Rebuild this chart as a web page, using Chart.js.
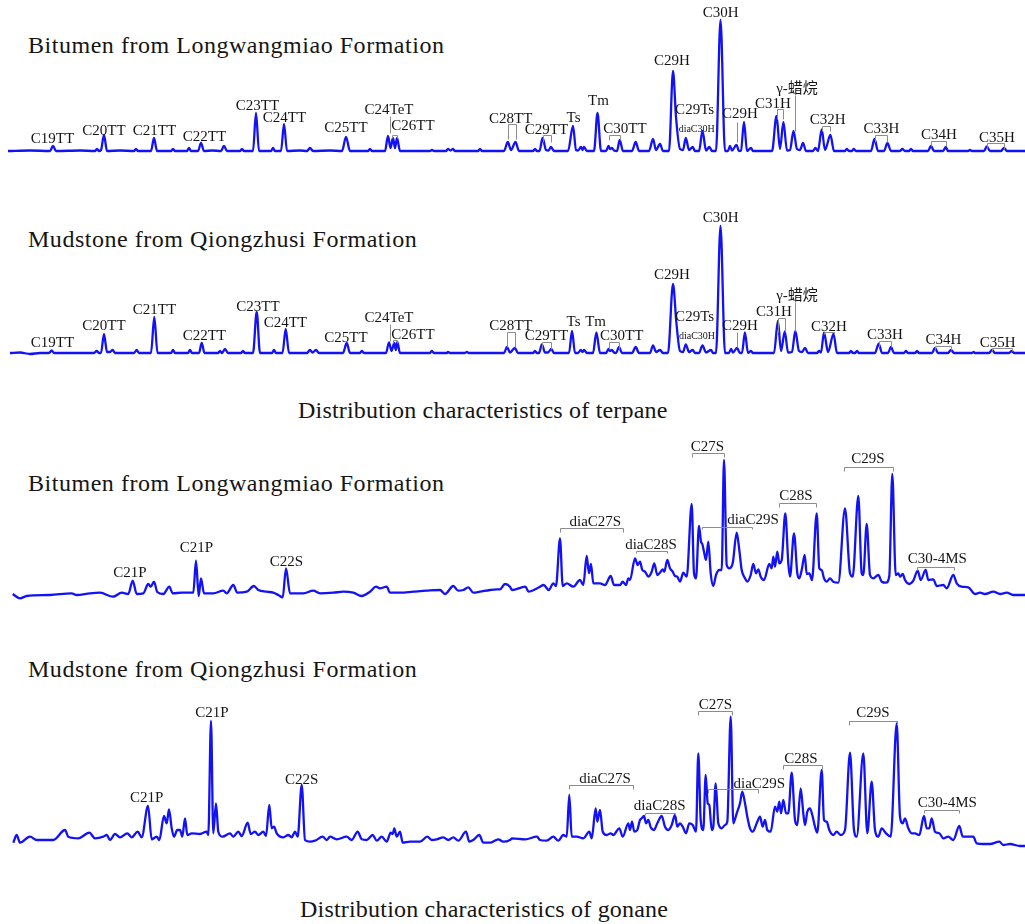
<!DOCTYPE html>
<html>
<head>
<meta charset="utf-8">
<script src="https://cdn.jsdelivr.net/npm/chart.js@4.4.1/dist/chart.umd.min.js"></script>
<style>
body { margin: 0; background: #fff; width: 1025px; height: 924px; position: relative; overflow: hidden;
       font-family: "Liberation Serif", "Times New Roman", serif; color: #151515; }
.title { position: absolute; left: 28px; font-size: 24px; line-height: 24px; letter-spacing: 0.53px; white-space: nowrap; }
.caption { position: absolute; font-size: 24px; line-height: 24px; letter-spacing: 0.2px; white-space: nowrap; }
canvas { position: absolute; left: 0; }
</style>
</head>
<body>

<div class="title" style="top:33px">Bitumen from Longwangmiao Formation</div>
<div class="title" style="top:227px">Mudstone from Qiongzhusi Formation</div>
<div class="caption" style="top:398px; left:298px">Distribution characteristics of terpane</div>
<div class="title" style="top:471px">Bitumen from Longwangmiao Formation</div>
<div class="title" style="top:657px">Mudstone from Qiongzhusi Formation</div>
<div class="caption" style="top:897px; left:300px">Distribution characteristics of gonane</div>

<canvas id="terpane_bitumen" width="1025" height="170" style="top:0px"></canvas>
<canvas id="terpane_mudstone" width="1025" height="170" style="top:200px"></canvas>
<canvas id="sterane_bitumen" width="1025" height="170" style="top:440px"></canvas>
<canvas id="sterane_mudstone" width="1025" height="180" style="top:680px"></canvas>

<script>
// Traces : [temps de rétention (scan), intensité relative]
var terpaneBitumen = [
	[8,0],[30,0.5],[50,0],[53,5],[56,0],[80,0.5],[95,0],[97,2],[99,0],[101,1],[104,16],[107,0],[120,0.5],
	[134,0],[136,2],[138,0],[151,0],[154,13],[157,0],[171,0],[173,2],[175,0],[187,0],[189,3],[191,0],
	[198,0],[201,8],[204,0],[212,0.5],[221,0],[224,5],[227,0],[240,0],[242,2],[244,0],[253,0],[256,38],
	[259,0],[271,0],[273,3],[275,0],[281,0],[284,27],[287,0],[300,0.5],[307,0],[310,3],[313,0],[330,0.5],
	[342,0],[346,14],[350,0],[368,0],[370,2],[372,0],[385,0],[388,15],[390.5,3],[393,13],[395,3],[397,13],
	[400,0],[430,0],[432,1],[434,0],[446,0],[448,2],[450.5,0.5],[453,2],[455,0],[478,0],[480,2],[482,0],
	[504,0],[507.8,9],[511,1],[515.5,9],[519,0],[533,0],[535,2],[537,0],[539.5,0],[542.6,13],[546,1],
	[548.5,0.5],[551,4],[554,0],[568,0],[573,25],[576,1],[578,0.5],[581,4],[582.5,1],[584,4],[587,0],
	[594,0],[597.5,38],[601,0],[606,0],[608.6,5],[610,2],[612,3],[614,0.5],[617,0],[619.7,11],[623,0],
	[632,0],[635.7,9],[639,0],[649,0],[653,12],[656,1],[660,7],[663,0],[669,0],[673,80],[676,34],[680,2],
	[683,1],[685.8,13],[689,1],[692.7,4],[695,0],[699,0],[702.5,20],[706,0.5],[709.4,4],[712,0],[716,0],
	[720.5,131],[725,0],[728,0],[730,5],[732,0.5],[736.5,6],[739,0],[741,0.5],[744,29],[747,0],[751,3],
	[753,0],[772,0],[776.5,35],[780,2],[783.4,29],[787,0.5],[790,1],[793.5,20],[797,2],[800,1],[803,8],
	[806,0],[813,0],[815.4,3],[818,0],[821.7,21.5],[825,1],[830.4,16],[834,0],[845,0],[846.7,2],[849,0],
	[852,0],[853.6,2],[856,0],[871,0],[874.5,12],[878,0],[884,0],[887.4,8],[891,0],[900,0],[902.3,2],
	[905,0],[909,0],[911,2],[913,0],[928,0],[931,5],[934,0],[943,0],[945.8,4],[948,0],[968,0],[970,1],
	[972,0],[984,0],[986.8,4.5],[990,0],[1001,0],[1004,3],[1007,0],[1025,0]
];

var terpaneMudstone = [
	[10,0],[20,0.5],[30,-1],[40,0],[49,0],[51.7,2.5],[54,0],[94,0],[96.7,2],[99,0],[101,0],[104,19],
	[107,1],[110,1],[112.7,3],[115,0],[134,0],[136.7,3],[139,0],[151,0],[154.3,36],[157.5,0],[171,0],
	[173,3],[175,0],[188,0],[190,3],[192,0],[199,0],[201.7,10],[204.5,0],[218,0],[220,2],[222,0],[225,4],
	[228,0],[241,0],[243,2],[245,0],[253,0],[256.7,41],[260,0],[272,0],[274,3],[276,0],[282.5,0],
	[285.7,24],[289,0],[307,0],[310,3],[312.5,0.5],[316,3],[319,0],[343,0],[346.7,10],[350,0],[360,0],
	[361.7,2],[364,0],[386,0],[389,10.7],[391.5,2],[394.3,10],[395.8,3],[397.3,11],[400,0],[430,0],
	[431.7,2],[434,0],[447,0],[448,1],[450,0],[465,0],[466.7,1],[469,0],[504,0],[507,6],[510,0.5],
	[514.8,5],[518,0],[533,0],[535,2],[537,0],[539,0],[541.9,8.7],[545,0.5],[548,0.5],[551.3,4],[554,0],
	[569,0],[572,22],[575,0],[578,0],[580.8,3],[582.5,1],[584,3],[587,0],[593,0],[596.4,20.5],[600,0],
	[606,0],[608.6,4],[610,2],[612,3],[614,0.5],[616,0],[619,6],[622,0],[632,0],[635.7,6],[639,0],[650,0],
	[653,7.6],[656,1],[660,3],[663,0],[668,0],[673,69],[676.4,30],[680,2],[683,1],[685.8,8.7],[689,1],
	[692.7,3],[695,0],[699,0],[702.5,7.6],[706,0.5],[711,3],[713,0],[716,0],[720.5,127],[725,0],[729,0],
	[731,4],[733,0.5],[737,5],[740,0],[742,0],[744.9,20.5],[748,0],[751,2],[753,0],[774,0],[777.9,32],
	[781,2],[784.8,21.5],[788,0.5],[792,1],[795.3,22],[799,2],[802,1],[805,5],[808,0],[817,0],[819,2],
	[821,0.5],[824,20.5],[828,1],[833.5,19],[837,0],[849,0],[851,2],[853,0],[855,0],[857,2],[859,0],
	[875,0],[878.7,9.4],[882,0],[888,0],[891,6],[894,0],[904,0],[905.8,2],[908,0],[915,0],[917,2],[919,0],
	[932,0],[935,5],[938,0],[948,0],[951,3],[954,0],[972,0],[973.6,1],[975,0],[989,0],[992,3],[995,0],
	[1009,0],[1011.8,2],[1014,0],[1025,0]
];

var steraneBitumen = [
	[12.7,2],[20,-2.3],[26.7,0],[50,1],[71.7,2.7],[76.7,1],[90,2.7],[100,3.3],[113,-0.7],[121.7,3.3],
	[128.3,2],[132.7,15.3],[136.7,2],[143.3,2.7],[148.3,12],[150.7,9.3],[154,14.3],[157.3,4],[163.3,2],
	[169.3,9.3],[172.7,2.7],[181.7,3.3],[193.3,3.3],[196,35.3],[198.7,0],[201,17.7],[204,2.7],[213.3,2.7],
	[223.3,5.3],[226.7,2.7],[233.3,11],[237.3,3.3],[246.7,4.3],[254,10],[258.3,6],[266.7,4.3],[273.3,3.3],
	[278.3,1],[282.7,-1.3],[286,27.7],[290,2.7],[303.3,2.7],[313.3,5.3],[320,2.7],[333.3,3.3],[343.3,4.3],
	[353.3,3.3],[361.7,0],[370,4.3],[376,9.3],[380,7.7],[386.7,9.3],[390,3.3],[400,3.3],[413.3,4.3],
	[426.7,5.3],[440,6],[445,2],[453.3,10],[458.3,5.3],[463.3,6],[468.3,8.7],[473.3,3.3],[480,4.3],[490,6],
	[496.7,6.7],[500,6.7],[505,12],[510,9.3],[512,6],[525.3,9.3],[528.7,4.3],[535.3,6.7],[540,9.3],
	[543.7,11],[548.7,6],[553.3,12.7],[556,10],[560,57.7],[562.7,10],[566.7,12.7],[573.3,9.3],[580,16],
	[583.3,11],[586.7,40],[589,22.7],[591,32],[593.3,12.7],[600,12.7],[605,11],[610.7,20],[614,11],[620,11],
	[622.7,14.3],[626,11],[628.3,17.7],[630,16],[635,37.7],[637.7,31],[640,34.3],[642.3,26],[645,24.3],
	[648.3,19.3],[651.7,24.3],[654.3,32.7],[657.3,21],[660.7,24.3],[662.7,26.7],[664.3,24.3],[667.3,36],
	[670,27.7],[672.7,24.3],[675,20],[677.3,19.3],[680,14.3],[683.3,23.3],[686.7,19.3],[691.7,92],
	[694,22.7],[696,17.7],[699,70],[701,54.3],[702.3,52],[704,44.3],[706,36],[708.3,54.3],[710.7,22.7],
	[713.3,10],[716,21],[719.3,26],[721.7,26],[724,136],[726.7,31],[729.3,27.7],[732.7,32.7],[736.7,63.3],
	[739.3,46],[741.7,26],[745,17.7],[747.3,14.3],[750.7,21],[753.3,32],[756,22.7],[758.3,26.7],
	[760.7,19.3],[764,16],[769.3,32],[771.7,27.7],[773.3,39.3],[775,29.3],[777.3,44.3],[779.3,32.7],
	[781.7,36],[785.3,82.7],[788.3,32.7],[790,19.3],[794,62.7],[797.3,22.7],[799.3,17.7],[801.7,26],
	[804.7,41],[806.7,22],[809.3,22.7],[812,16],[816.7,82.7],[819.3,27.7],[821.7,26],[824,17.7],
	[826.7,14.3],[830,17.7],[833.3,14.3],[838.3,13.3],[845,87.7],[850,22.7],[852.7,19.3],[858.3,100],
	[861.7,22.7],[863.3,21],[866.7,72],[870,21],[873.3,17.7],[878.3,21],[881.7,14.3],[886,13.3],[889.3,20],
	[892.3,122],[895.7,21],[898.3,22.7],[900,19.3],[902.7,22],[905,16],[909.3,12],[913.3,15.3],
	[917.7,25.3],[920.7,16],[925.7,26],[928.3,16],[933.3,16.7],[936.7,10],[943.3,11],[946.7,7.7],
	[953.3,21],[956.7,12.7],[961.7,9.3],[968.3,8.7],[975,2],[980,3.3],[985,2],[993.3,4.3],[1000,2],
	[1006.7,3.3],[1013.3,1],[1025,1]
];

var steraneMudstone = [
	[13.3,-0.7],[16.7,7],[20,-0.7],[30,5.3],[36.7,2],[53.3,2],[65,12],[68.3,5.3],[78.3,3.7],[89.3,9.3],
	[95,3.7],[103.3,5.3],[106.7,7],[110,2],[115,8],[120,4.7],[127.3,8.7],[131.7,4.7],[137.7,10.3],
	[141.7,4.7],[148,36],[151.7,2.7],[156.7,5.3],[159.3,2],[164,26],[166.7,18.7],[169,32.7],[171.7,13.7],
	[174,5.3],[177.3,12],[180,12],[182.3,5.3],[185,23.7],[187.3,7],[191.7,8.7],[200,8],[206.7,10.3],
	[208.3,7],[211,121],[213.3,8.7],[216,38.7],[218.3,10.3],[222.7,5.3],[230,8.7],[233.3,5.3],[238.3,10.3],
	[241.7,6],[247.7,19.3],[250.7,8],[255,10.3],[258.3,7],[263.3,10.3],[266,6],[269.3,37],[271.7,13.7],
	[274,15.3],[276.7,8.7],[283.3,4.7],[288.3,7],[291.7,4.7],[295,10.3],[297.7,5.3],[301.7,57],[305,2],
	[310,0.3],[315,1.3],[322.7,5.3],[326.7,2],[330,5.3],[336.7,2.7],[346.7,5.3],[351.7,2],[357.7,10.3],
	[361.7,2.7],[366.7,2],[372.7,7],[376.7,1.3],[381.7,5.3],[386.7,0.3],[390.7,9.3],[392.7,8],[394.3,13.7],
	[396.7,5.3],[400,10.3],[402.7,-0.7],[410,0.3],[420,0.3],[427.3,5.3],[431.7,2],[436.7,2.7],[443.3,4.7],
	[448.3,2],[453.3,4.7],[458.3,1.3],[466,10.3],[469.3,0.3],[473.3,2],[479.3,7],[483.3,-0.7],[490,-0.7],
	[498.3,2.7],[503.3,0.3],[510,2],[512,3.7],[525.3,2.7],[537,5.3],[540,2],[546.7,1.3],[553.3,5.3],
	[558.3,1.3],[563.3,7],[566.7,5.3],[569.3,47],[571.7,5.3],[576.7,5.3],[583.3,3.7],[589.3,10.3],
	[591.7,3.7],[595.7,33.7],[597.3,20.3],[600,32],[602.7,10.3],[606.7,7],[610.7,8.7],[613.3,7],
	[619.3,13.7],[622.7,5.3],[628.3,18.7],[630,12],[632,20.3],[634.3,10.3],[637.3,12],[640,22],[641.7,23.7],
	[644,26],[646,18.7],[648.3,22],[650.7,14.7],[654,12],[657.3,18.7],[661.7,26],[665,15.3],[668.3,12],
	[671.7,17],[675,27],[677.3,15.3],[680,18.7],[682.7,15.3],[686,8.7],[689.3,18.7],[692.7,17],[696,10.3],
	[698.3,88.7],[700.7,22],[703.3,12],[705.7,67],[707.7,38.7],[709.3,37],[711.7,12],[713.3,15.3],
	[715.7,58.7],[718.3,18.7],[721.7,13.7],[725,17],[727.3,20.3],[730.7,125.3],[733.3,18.7],[736.7,28.7],
	[740,38.7],[742.3,50.3],[745,38.7],[747.3,25.3],[750,13.7],[752.7,10.3],[756.7,18.7],[760,25.3],
	[762.7,15.3],[765,22],[767.3,12],[770.7,10.3],[775,35.3],[777.3,30.3],[779.3,40.3],[781,28.7],
	[783.3,42],[786,28.7],[788.3,28.7],[791.7,69.3],[795,22],[797.3,17],[800.7,53.7],[803.3,28.7],[805,17],
	[807.3,30.3],[810,33.7],[812.3,27],[815,15.3],[817.3,9.3],[821.7,72],[824,22],[826.7,20.3],[829.3,12],
	[833.3,7],[836.7,10.3],[840.7,7],[845,12],[850,89.3],[854,12],[856.7,5.3],[863.3,88.7],[867.3,8.7],
	[871.7,60.3],[875,12],[878.3,5.3],[881.7,13.7],[886,8.7],[890.7,5.3],[896.7,118.7],[900,25.3],
	[902.7,18.7],[905,23.7],[908.3,13.7],[911.7,8.7],[915,8.7],[919.3,7],[924,26],[926.7,13.7],[929.3,13.7],
	[931.7,23.7],[935,10.3],[939.3,8.7],[943.3,3.7],[948.3,5.3],[953.3,2],[959.3,16],[962.7,5.3],
	[968.3,5.3],[973.3,5.3],[976.7,-1.3],[983.3,-2],[990,-2],[999.3,0.3],[1003.3,-3],[1010,-2],[1020,-4],
	[1025,-4]
];

// Étiquettes des pics : [texte, rétention, intensité du pied du texte, taille]
var terpaneBitumenLabels = [
	['C19TT',52.5,7.7],['C20TT',104,15.7],['C21TT',154.5,15.7],['C22TT',204.5,9.7],['C23TT',257.5,40.7],
	['C24TT',284.5,28.7],['C25TT',346,18.7],['C24TeT',389,36.7],['C26TT',413,20.7],['C28TT',510.7,28.5],
	['C29TT',546.5,17],['Ts',573.5,29.5],['Tm',598.5,45.9],['C30TT',625,18],['C29H',672,86],
	['C29Ts',694.6,37],['diaC30H',696.7,19,10],['C30H',720.7,134],['C29H',740,33],['C31H',773,43],
	['γ-蜡烷',797,58],['C32H',827.6,26.8],['C33H',881.5,18],['C34H',939,12],['C35H',997,9.4]
];
var terpaneMudstoneLabels = [
	['C19TT',52.5,5.7],['C20TT',104,23],['C21TT',154.5,39],['C22TT',204.3,13],['C23TT',258,42],
	['C24TT',285.3,25.7],['C25TT',346,11],['C24TeT',389,30.7],['C26TT',413,14],['C28TT',510.8,23.3],
	['C29TT',546.5,12.9],['Ts',573.5,26.8],['Tm',595.6,26.8],['C30TT',621.7,12.9],['C29H',672,74.4],
	['C29Ts',694.6,32],['diaC30H',697,13.6,10],['C30H',720.7,131],['C29H',740,22.6],['C31H',774,37],
	['γ-蜡烷',797,52.8],['C32H',829,22],['C33H',885,13.6],['C34H',943.5,9.4],['C35H',997.7,6]
];
var steraneBitumenLabels = [
	['C21P',130,18.7],['C21P',196.3,44.3],['C22S',286.3,30],['diaC27S',595.3,70],['diaC28S',651,46.7],
	['C27S',707.3,145.3],['diaC29S',753,72],['C28S',796,96],['C29S',868,132.7],['C30-4MS',937.3,32.7]
];
var steraneMudstoneLabels = [
	['C21P',146.7,40.3],['C21P',212,125.3],['C22S',301.7,58],['diaC27S',605,59.3],['diaC28S',659.7,32],
	['C27S',715.5,133],['diaC29S',759.3,53.7],['C28S',801,79.3],['C29S',873,124.7],['C30-4MS',947.3,34.7]
];

// Crochets : [début, fin, haut, pied]   Traits de repère : [rétention, haut, pied]
var terpaneBitumenBrackets = [
	[392,397,16,13],[507.8,515.5,26.8,12],[542.6,551,16.3,8.7],[608.6,619.7,16.3,11],[776.5,783.4,42,32],
	[821.7,830.4,25,20],[874.5,887.4,16.3,9.4],[931,945.8,10,5],[986.8,1004,7.6,2.5]
];
var terpaneBitumenLeaders = [[390,35,18],[737.2,29.5,9.4],[794.6,56,20.5]];
var terpaneMudstoneBrackets = [
	[392.7,396.7,13.3,10],[507,514.8,21.5,6],[541.9,551.3,11,4],[608.6,619,11,4],[777.9,784.8,35.5,21.5],
	[824,833.5,21.5,19],[878.7,891,12,6],[935,951,6.6,3],[992,1011.8,5.2,2]
];
var terpaneMudstoneLeaders = [[390,29,12],[737.2,21.5,6],[795.3,51,22]];
var steraneBitumenBrackets = [
	[560,623.3,68.3,64],[636,667.3,45,42.7],[692,723.7,143.3,139],[701.7,751.7,69.3,67],
	[778.7,816.3,93,89],[844,892.7,129.3,125],[917.3,954,28.7,26]
];
var steraneMudstoneBrackets = [
	[569.3,632.7,57,53],[645,675,29.3,27],[698.3,731.7,131.3,127],[708.3,758.3,52.7,49],
	[782.7,821.7,77,73],[849.3,896.7,121.3,117],[924,959.3,32,29]
];

// Plugin : dessine les crochets, les traits et les noms des pics
var peakNotes = {
	id: 'peakNotes',
	afterDatasetsDraw: function(chart, args, opts) {
		var ctx = chart.ctx;
		var xs = chart.scales.x, ys = chart.scales.y;
		var px = function(v) { return Math.round(xs.getPixelForValue(v)) + 0.5; };
		var py = function(v) { return Math.round(ys.getPixelForValue(v)) + 0.5; };
		ctx.save();
		ctx.strokeStyle = '#8c8c8c';
		ctx.lineWidth = 1;
		(opts.brackets || []).forEach(function(b) {
			ctx.beginPath();
			ctx.moveTo(px(b[0]), py(b[3]));
			ctx.lineTo(px(b[0]), py(b[2]));
			ctx.lineTo(px(b[1]), py(b[2]));
			ctx.lineTo(px(b[1]), py(b[3]));
			ctx.stroke();
		});
		(opts.leaders || []).forEach(function(l) {
			ctx.beginPath();
			ctx.moveTo(px(l[0]), py(l[1]));
			ctx.lineTo(px(l[0]), py(l[2]));
			ctx.stroke();
		});
		ctx.fillStyle = '#151515';
		ctx.textAlign = 'center';
		ctx.textBaseline = 'alphabetic';
		(opts.labels || []).forEach(function(t) {
			ctx.font = (t[3] || 15) + 'px "Liberation Serif", "Noto Sans CJK SC", serif';
			ctx.fillText(t[0], xs.getPixelForValue(t[1]), ys.getPixelForValue(t[2]));
		});
		ctx.restore();
	}
};

// Création d'un chromatogramme ; base = position de la ligne de base dans le canvas
function drawTrace(id, trace, base, notes) {
	var canvas = document.getElementById(id);
	var h = canvas.height;
	return new Chart(canvas, {
		type: 'line',
		data: { datasets: [{
			data: trace.map(function(p) { return { x: p[0], y: p[1] }; }),
			borderColor: 'rgb(18,18,245)',
			borderWidth: 2.3,
			pointRadius: 0,
			cubicInterpolationMode: 'monotone',
			fill: false,
			clip: false
		}]},
		options: {
			responsive: false,
			animation: false,
			devicePixelRatio: 1,
			layout: { padding: 0 },
			scales: {
				x: { type: 'linear', display: false, min: 0, max: 1025 },
				y: { type: 'linear', display: false, min: base - h, max: base }
			},
			plugins: { legend: { display: false }, tooltip: { enabled: false }, peakNotes: notes }
		},
		plugins: [peakNotes]
	});
}

drawTrace('terpane_bitumen', terpaneBitumen, 151,
	{ labels: terpaneBitumenLabels, brackets: terpaneBitumenBrackets, leaders: terpaneBitumenLeaders });
drawTrace('terpane_mudstone', terpaneMudstone, 153,
	{ labels: terpaneMudstoneLabels, brackets: terpaneMudstoneBrackets, leaders: terpaneMudstoneLeaders });
drawTrace('sterane_bitumen', steraneBitumen, 156,
	{ labels: steraneBitumenLabels, brackets: steraneBitumenBrackets });
drawTrace('sterane_mudstone', steraneMudstone, 162,
	{ labels: steraneMudstoneLabels, brackets: steraneMudstoneBrackets });
</script>
</body>
</html>
